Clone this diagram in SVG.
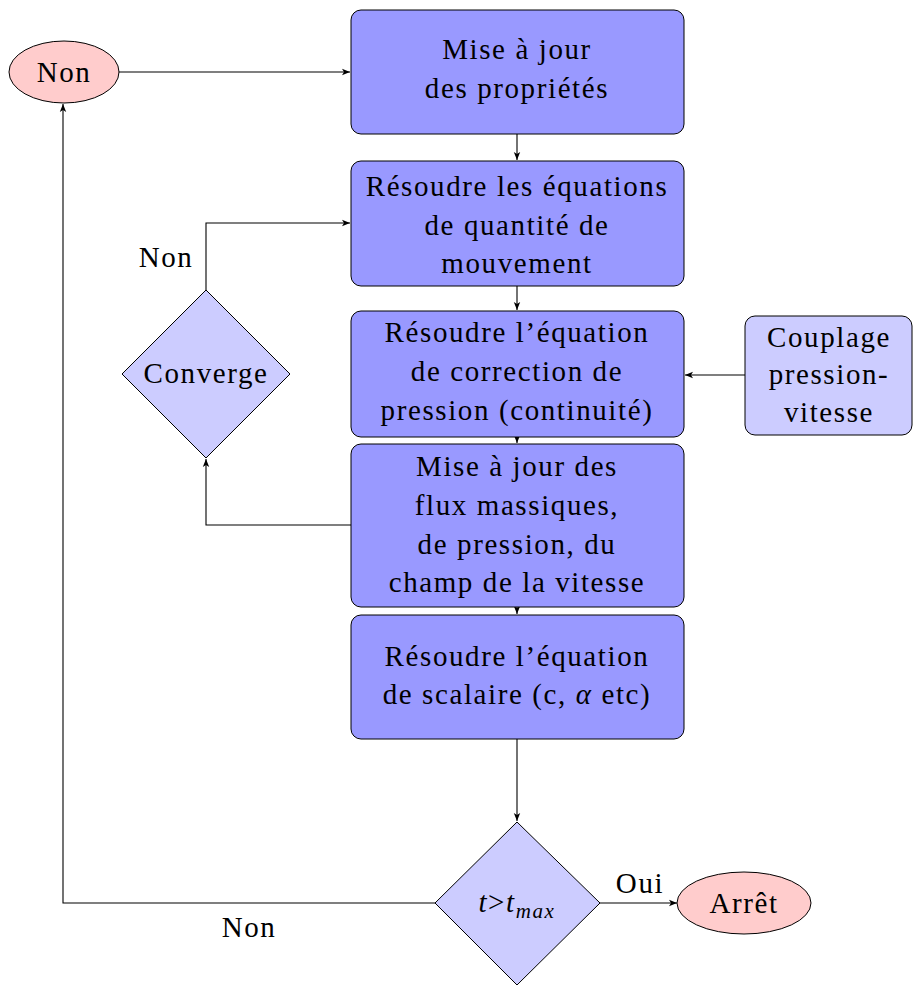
<svg xmlns="http://www.w3.org/2000/svg" width="913" height="985" viewBox="0 0 913 985">
<style>
text{font-family:"Liberation Serif","Times New Roman","DejaVu Serif",serif;font-size:29px;fill:#000;text-anchor:middle;letter-spacing:1.6px}
.box{fill:#9999ff;stroke:#000;stroke-width:1}
.lbox{fill:#ccccff;stroke:#000;stroke-width:1}
.ell{fill:#ffcccc;stroke:#000;stroke-width:1}
.c{fill:none;stroke:#000;stroke-width:1.1}
</style>
<defs>
<marker id="ah" viewBox="0 0 10 10" refX="10" refY="5" markerWidth="8" markerHeight="8" markerUnits="userSpaceOnUse" orient="auto">
<path d="M0,1 L10,5 L0,9 L2.5,5 Z" fill="#000"/>
</marker>
</defs>
<rect width="913" height="985" fill="#fff"/>
<g id="connectors">
<path class="c" d="M118,72 H350" marker-end="url(#ah)"/>
<path class="c" d="M517,134 V160" marker-end="url(#ah)"/>
<path class="c" d="M517,286 V310" marker-end="url(#ah)"/>
<path class="c" d="M517,437 V443" marker-end="url(#ah)"/>
<path class="c" d="M517,607 V614" marker-end="url(#ah)"/>
<path class="c" d="M517,739 V821" marker-end="url(#ah)"/>
<path class="c" d="M600,903 H677" marker-end="url(#ah)"/>
<path class="c" d="M435,903 H63 V104" marker-end="url(#ah)"/>
<path class="c" d="M351,525 H206 V459" marker-end="url(#ah)"/>
<path class="c" d="M206,290 V223 H350" marker-end="url(#ah)"/>
<path class="c" d="M745,375 H685" marker-end="url(#ah)"/>
<text x="640" y="893">Oui</text>
<text x="249" y="937">Non</text>
<text x="166" y="267">Non</text>
</g>
<g id="n-non">
<ellipse class="ell" cx="64" cy="72" rx="55" ry="31"/>
<text x="64" y="82">Non</text>
</g>
<g id="n-maj">
<rect class="box" x="351" y="10" width="333" height="124" rx="10"/>
<text x="517" y="59">Mise à jour</text>
<text x="517" y="98">des propriétés</text>
</g>
<g id="n-qdm">
<rect class="box" x="351" y="161" width="333" height="125" rx="10"/>
<text x="517" y="196">Résoudre les équations</text>
<text x="517" y="235">de quantité de</text>
<text x="517" y="273">mouvement</text>
</g>
<g id="n-press">
<rect class="box" x="351" y="311" width="333" height="126" rx="10"/>
<text x="517" y="342">Résoudre l’équation</text>
<text x="517" y="381">de correction de</text>
<text x="517" y="420">pression (continuité)</text>
</g>
<g id="n-flux">
<rect class="box" x="351" y="444" width="333" height="163" rx="10"/>
<text x="517" y="476">Mise à jour des</text>
<text x="517" y="515">flux massiques,</text>
<text x="517" y="554">de pression, du</text>
<text x="517" y="592">champ de la vitesse</text>
</g>
<g id="n-scal">
<rect class="box" x="351" y="615" width="333" height="124" rx="10"/>
<text x="517" y="666">Résoudre l’équation</text>
<text x="517" y="704">de scalaire (c, <tspan font-style="italic">α</tspan> etc)</text>
</g>
<g id="n-coupl">
<rect class="lbox" x="745" y="316" width="167" height="119" rx="10"/>
<text x="829" y="347">Couplage</text>
<text x="829" y="384">pression-</text>
<text x="829" y="422">vitesse</text>
</g>
<g id="n-conv">
<polygon class="lbox" points="206,290 290,374 206,458 122,374"/>
<text x="206" y="383">Converge</text>
</g>
<g id="n-tmax">
<polygon class="lbox" points="517,822 600,903 517,985 435,903"/>
<text x="517" y="912"><tspan font-style="italic">t</tspan>&gt;<tspan font-style="italic">t</tspan><tspan font-style="italic" font-size="21" dy="6">max</tspan></text>
</g>
<g id="n-arret">
<ellipse class="ell" cx="744" cy="903" rx="67" ry="31"/>
<text x="744" y="913">Arrêt</text>
</g>
</svg>
